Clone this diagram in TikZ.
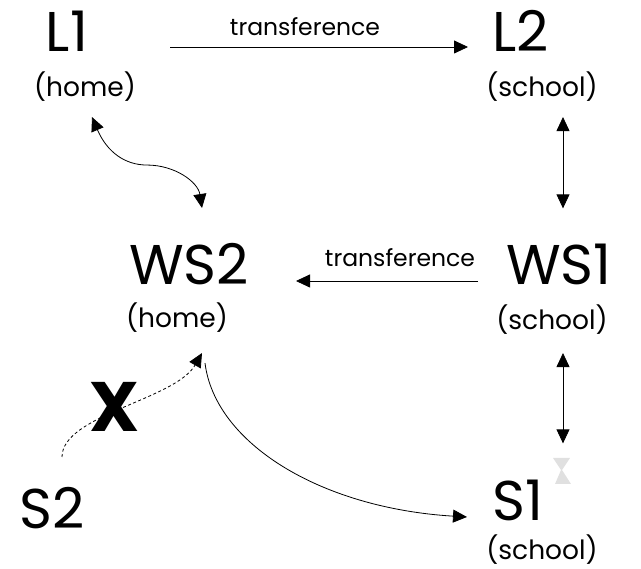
\documentclass[tikz,border=0pt]{standalone}
\usepackage{fontspec}
\setmainfont{Poppins}
\usetikzlibrary{arrows.meta,calc}
\begin{document}
\begin{tikzpicture}[x=1pt,y=-1pt,
  big/.style={inner sep=0pt,font=\fontsize{56}{56}\selectfont},
  sub/.style={inner sep=0pt,font=\fontsize{26.5}{26.5}\selectfont},
  lab/.style={inner sep=0pt,font=\fontsize{23.5}{23.5}\selectfont},
  arr/.style={line width=0.8pt,-{Triangle[length=14pt,width=13pt]}},
  darr/.style={line width=0.8pt,{Triangle[length=14pt,width=13pt]}-{Triangle[length=14pt,width=13pt]}},
  cross/.style={inner sep=0pt,font=\fontsize{70}{70}\selectfont\bfseries}]
\useasboundingbox (0,0) rectangle (641,569);
% nodes
\node[big] (L1) at (67,31) {L1};
\node[sub] (L1s) at (85,87) {(home)};
\node[big] (L2) at (521,31) {L2};
\node[sub] (L2s) at (542,87) {(school)};
\node[big] (WS2) at (189,264) {WS2};
\node[sub] (WS2s) at (177,318) {(home)};
\node[big] (WS1) at (559,264) {WS1};
\node[sub] (WS1s) at (552,320) {(school)};
\node[big] (S2) at (52,508) {S2};
\node[big] (S1) at (518,500) {S1};
\node[sub] (S1s) at (542,550) {(school)};
\node[lab] (t1) at (305,27) {transference};
\node[lab] (t2) at (400,258) {transference};
\node[cross] (X) at (115,407) {X};
% connectors
\draw[arr] ($(L1)+(103,16)$) -- ($(L2)+(-53,16)$);
\draw[arr] ($(WS1)+(-81,17)$) -- ($(WS2)+(107,17)$);
\draw[darr] ($(L2s.south)+(21,15)$) -- ($(WS1.north)+(4,-35)$);
\draw[darr] ($(WS1s.south)+(11,18)$) -- ($(S1.north)+(45,-36)$);
\draw[darr] ($(L1s.south)+(7,15)$) .. controls ($(L1s.south)+(22,50)$) and ($(L1s.south)+(40,63)$) .. ($(L1s.south)+(62,63)$)
  .. controls ($(L1s.south)+(90,63)$) and ($(L1s.south)+(113,80)$) .. ($(WS2.north)+(13,-35)$);
\draw[line width=0.8pt,dash pattern=on 3pt off 2.5pt,-{Triangle[length=14pt,width=13pt]}] ($(S2)+(10,-51)$) .. controls ($(S2)+(10,-93)$) and ($(X)+(60,-7)$) .. ($(WS2s.south)+(25,20)$);
\draw[arr] ($(WS2s.south)+(28,30)$) .. controls ($(WS2s.south)+(38,110)$) and ($(WS2s.south)+(143,175)$) .. ($(S1)+(-51,17)$);
% faint grey mark near S1
\fill[black!12] (553,458) -- (570,458) -- (562,470) -- (571,484) -- (555,484) -- (561,470) -- cycle;
\end{tikzpicture}
\end{document}
